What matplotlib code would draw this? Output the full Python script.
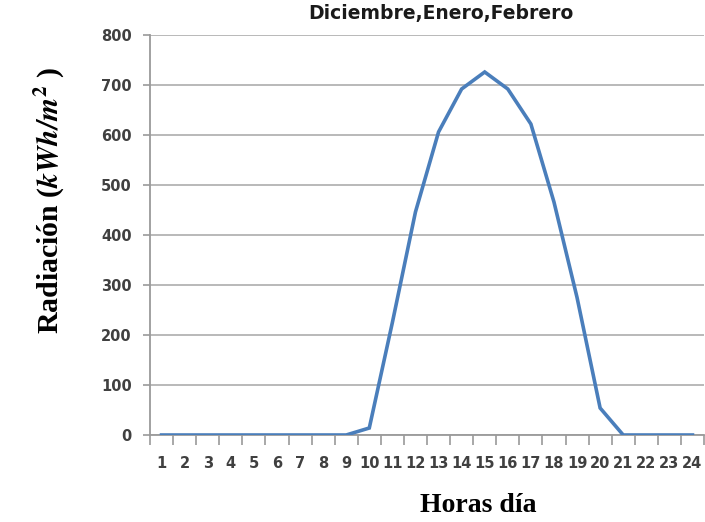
import matplotlib
matplotlib.use("Agg")
import matplotlib.pyplot as plt
from matplotlib.ticker import FixedLocator, NullFormatter

hours = list(range(1, 25))
radiacion = [0, 0, 0, 0, 0, 0, 0, 0, 0, 14, 225, 446, 606, 692, 726, 692,
             622, 466, 275, 54, 0, 0, 0, 0]
yticks = [0, 100, 200, 300, 400, 500, 600, 700, 800]

plt.rcParams['mathtext.fontset'] = 'stix'

fig = plt.figure(figsize=(7.05, 5.22), dpi=100)
ax = fig.add_axes([150/705, 1-435/522, (704-150)/705, 400/522])

ax.plot(hours, radiacion, color='#4A7EBB', lw=2.6, solid_joinstyle='miter', zorder=3)

ax.set_xlim(0.5, 24.5)
ax.set_ylim(0, 800)
ax.set_yticks(yticks)
ax.set_xticks(hours)
ax.xaxis.set_minor_locator(FixedLocator([h + 0.5 for h in range(0, 25)]))
ax.xaxis.set_minor_formatter(NullFormatter())

ax.grid(axis='y', color='#B3B3B3', lw=1.3, zorder=0)
ax.set_axisbelow(True)
for s in ['top', 'right']:
    ax.spines[s].set_visible(False)
for s in ['left', 'bottom']:
    ax.spines[s].set_color('#9A9A9A')
    ax.spines[s].set_linewidth(1.3)

ax.tick_params(axis='y', which='major', length=5, width=1.2, color='#9A9A9A',
               labelsize=10.5, labelcolor='#404040', pad=8)
ax.tick_params(axis='x', which='major', length=0, labelsize=10.5,
               labelcolor='#404040', pad=15)
ax.tick_params(axis='x', which='minor', length=7, width=1.2, color='#9A9A9A')
for lab in ax.get_xticklabels() + ax.get_yticklabels():
    lab.set_fontweight('bold')
    lab.set_family('DejaVu Sans')

fig.text(441/705, 1-14/522, 'Diciembre,Enero,Febrero', ha='center', va='center',
         fontsize=13.5, fontweight='bold', color='#1a1a1a', family='DejaVu Sans')

fig.text(478/705, 1-505/522, 'Horas día', ha='center', va='center',
         fontsize=20, fontweight='bold', family='Liberation Serif')
fig.text(50/705, 1-201/522, r'Radiación ($\mathbfit{kWh/m}^{\mathbf{2}}$ )', ha='center', va='center',
         rotation=90, fontsize=21.5, fontweight='bold', family='Liberation Serif')

fig.savefig('out.png', dpi=100)
